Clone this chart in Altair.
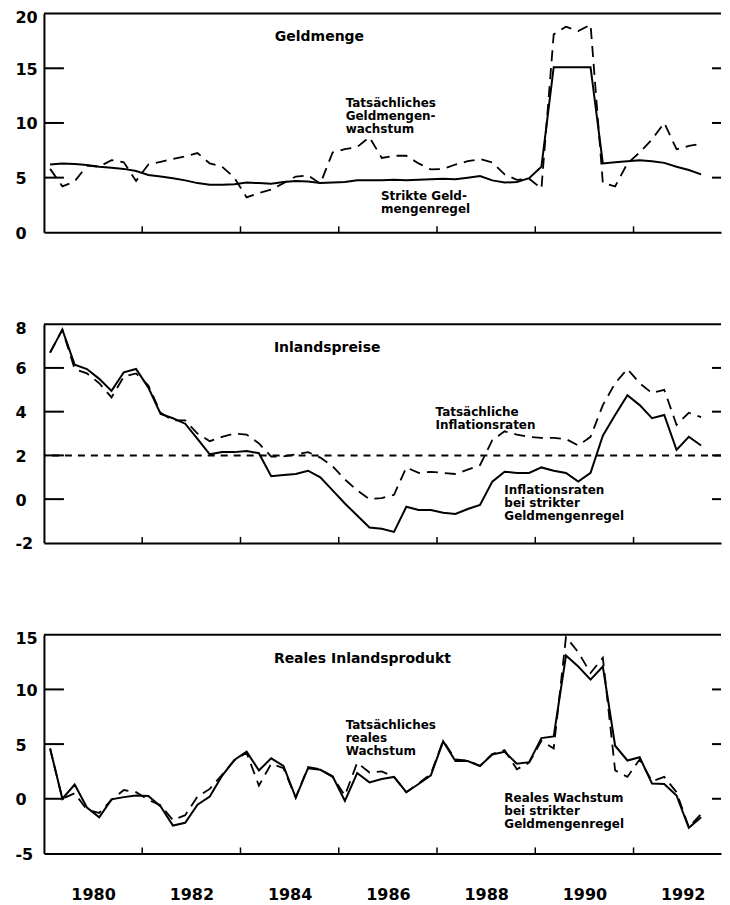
import altair as alt
import pandas as pd

# ---------------- data (quarterly, 1979 Q1 .. 1992 Q2) ----------------
years = list(range(1979, 1993))
quarter_mid = [0.125, 0.375, 0.625, 0.875]
t = [y + q for y in years for q in quarter_mid][:54]

geld_strikt = [6.2, 6.3, 6.25, 6.15, 6.0, 5.9, 5.8, 5.6, 5.25, 5.1,
               4.95, 4.75, 4.5, 4.35, 4.35, 4.4, 4.55, 4.5, 4.45, 4.6,
               4.7, 4.65, 4.5, 4.55, 4.6, 4.75, 4.75, 4.75, 4.8, 4.75,
               4.8, 4.85, 4.9, 4.85, 5.0, 5.15, 4.75, 4.55, 4.6, 4.95,
               6.0, 15.1, 15.1, 15.1, 15.1, 6.3, 6.4, 6.5, 6.6, 6.5,
               6.35, 6.0, 5.7, 5.3]
geld_tats = [5.8, 4.2, 4.65, 6.1, 6.0, 6.6, 6.4, 4.7, 6.2, 6.45,
             6.7, 6.95, 7.25, 6.3, 6.0, 5.0, 3.2, 3.6, 3.9, 4.5,
             5.1, 5.2, 4.45, 7.3, 7.6, 7.8, 8.7, 6.8, 7.0, 7.0,
             6.3, 5.75, 5.8, 6.2, 6.5, 6.7, 6.4, 5.3, 4.8, 4.9,
             4.0, 18.1, 18.8, 18.4, 19.0, 4.5, 4.2, 6.3, 7.3, 8.5,
             10.0, 7.6, 7.9, 8.1]

preis_strikt = [6.7, 7.75, 6.15, 5.95, 5.5, 4.95, 5.8, 5.95, 5.1, 3.9,
                3.7, 3.45, 2.75, 2.05, 2.15, 2.15, 2.2, 2.1, 1.05, 1.1,
                1.15, 1.3, 1.0, 0.4, -0.2, -0.75, -1.3, -1.35, -1.5, -0.35,
                -0.5, -0.5, -0.62, -0.68, -0.45, -0.27, 0.8, 1.25, 1.2, 1.2,
                1.45, 1.3, 1.2, 0.8, 1.2, 2.9, 3.85, 4.75, 4.3, 3.7,
                3.85, 2.25, 2.85, 2.45]
preis_tats = [6.7, 7.75, 5.95, 5.75, 5.3, 4.65, 5.6, 5.75, 5.2, 3.95,
              3.6, 3.6, 3.0, 2.65, 2.85, 3.0, 2.95, 2.55, 1.95, 1.95,
              2.05, 2.15, 1.9, 1.5, 0.9, 0.4, 0.0, 0.05, 0.2, 1.45,
              1.2, 1.25, 1.2, 1.15, 1.35, 1.55, 2.7, 3.1, 2.95, 2.85,
              2.8, 2.8, 2.75, 2.45, 2.85, 4.3, 5.3, 5.95, 5.3, 4.85,
              5.0, 3.4, 3.95, 3.75]

real_strikt = [4.6, 0.0, 1.3, -0.8, -1.7, -0.05, 0.15, 0.3, 0.25, -0.7,
               -2.45, -2.2, -0.55, 0.2, 2.1, 3.55, 4.3, 2.6, 3.7, 3.0,
               0.1, 2.8, 2.65, 2.05, -0.2, 2.35, 1.5, 1.8, 2.0, 0.6,
               1.35, 2.15, 5.25, 3.45, 3.45, 3.0, 4.05, 4.3, 3.2, 3.35,
               5.55, 5.7, 13.1, 12.1, 10.9, 12.1, 4.85, 3.5, 3.8, 1.4,
               1.35, 0.3, -2.65, -1.7]
real_tats = [4.6, 0.0, 0.5, -1.0, -1.3, -0.1, 0.8, 0.6, -0.1, -0.6,
             -1.95, -1.5, 0.2, 0.9, 2.2, 3.5, 4.2, 1.2, 3.2, 2.8,
             0.1, 2.9, 2.7, 2.0, 0.3, 3.3, 2.4, 2.5, 2.0, 0.6,
             1.4, 2.3, 5.3, 3.6, 3.5, 3.0, 4.1, 4.45, 2.7, 3.3,
             5.3, 4.6, 14.8, 13.4, 11.5, 12.9, 2.6, 2.0, 3.6, 1.6,
             2.0, 0.6, -2.6, -1.4]

x_label_years = [1980, 1982, 1984, 1986, 1988, 1990, 1992]
x_tick_years = [1981, 1983, 1985, 1987, 1989, 1991]

# ---------------- layout constants ----------------
W, H = 678, 219
XDOM = [1979.0, 1992.78]
FONT = "DejaVu Sans"


def panel(solid, dashed, ydom, yvals, inner, title, title_xy, notes, show_labels, ref=None):
    xs = alt.Scale(domain=XDOM, nice=False, zero=False)
    ys = alt.Scale(domain=ydom, nice=False, zero=False)
    xaxis = alt.Axis(values=x_label_years, format="d", labels=show_labels, ticks=False,
                     tickSize=0, grid=False, domain=True, domainColor="black",
                     domainWidth=2, labelFont=FONT, labelFontWeight="bold",
                     labelFontSize=16, labelColor="black", labelPadding=33,
                     labelFlush=False, labelOverlap=False, title=None)
    top_test = "datum.value == %s" % ydom[1]
    yaxis = alt.Axis(values=yvals, ticks=False, tickSize=0, grid=False, domain=True,
                     domainColor="black", domainWidth=2, labelFont=FONT,
                     labelFontWeight="bold", labelFontSize=16, labelColor="black",
                     labelAlign="left", labelPadding=29,
                     labelOffset={"condition": {"test": top_test, "value": 4}, "value": 1},
                     labelExpr="replace(datum.label, '\u2212', '-')",
                     labelFlush=False, labelOverlap=False, title=None)
    X = lambda f: alt.X(f, scale=xs, axis=xaxis)
    Y = lambda f: alt.Y(f, scale=ys, axis=yaxis)

    df = pd.DataFrame({"t": t, "solid": solid, "dashed": dashed})
    layers = []
    # top frame line
    layers.append(alt.Chart(pd.DataFrame({"v": [ydom[1]]})).mark_rule(
        color="black", strokeWidth=2).encode(y=Y("v:Q")))
    # inward ticks left and right
    tdf = pd.DataFrame({"v": inner})
    layers.append(alt.Chart(tdf).mark_rule(color="black", strokeWidth=2).encode(
        y=Y("v:Q"), x=alt.value(0), x2=alt.value(20)))
    layers.append(alt.Chart(tdf).mark_rule(color="black", strokeWidth=2).encode(
        y=Y("v:Q"), x=alt.value(W - 9), x2=alt.value(W)))
    # inward ticks bottom
    layers.append(alt.Chart(pd.DataFrame({"t": x_tick_years})).mark_rule(
        color="black", strokeWidth=1.5).encode(x=X("t:Q"), y=alt.value(H), y2=alt.value(H - 6)))
    if ref is not None:
        layers.append(alt.Chart(pd.DataFrame({"v": [ref]})).mark_rule(
            color="black", strokeWidth=2, strokeDash=[7, 6]).encode(y=Y("v:Q")))
    layers.append(alt.Chart(df).mark_line(color="black", strokeWidth=1.8,
                                          strokeDash=[11, 7]).encode(x=X("t:Q"), y=Y("dashed:Q")))
    layers.append(alt.Chart(df).mark_line(color="black", strokeWidth=2).encode(
        x=X("t:Q"), y=Y("solid:Q")))
    # title
    layers.append(alt.Chart(pd.DataFrame({"x": [title_xy[0]], "y": [title_xy[1]], "s": [title]}))
                  .mark_text(align="left", baseline="alphabetic", font=FONT, fontWeight="bold",
                             fontSize=14, color="black")
                  .encode(x=X("x:Q"), y=Y("y:Q"), text="s:N"))
    ndf = pd.DataFrame({"x": [n[0] for n in notes], "y": [n[1] for n in notes],
                        "s": [n[2] for n in notes]})
    layers.append(alt.Chart(ndf).mark_text(align="left", baseline="alphabetic", font=FONT,
                                           fontWeight="bold", fontSize=12, lineHeight=13,
                                           lineBreak="\n", color="black")
                  .encode(x=X("x:Q"), y=Y("y:Q"), text="s:N"))
    return alt.layer(*layers).properties(width=W, height=H)


p1 = panel(geld_strikt, geld_tats, [0, 20], [0, 5, 10, 15, 20], [5, 10, 15],
           "Geldmenge", (1983.70, 17.5),
           [(1985.14, 11.45, "Tatsächliches\nGeldmengen-\nwachstum"),
            (1985.86, 2.95, "Strikte Geld-\nmengenregel")], False)
p2 = panel(preis_strikt, preis_tats, [-2, 8], [-2, 0, 2, 4, 6, 8], [0, 2, 4, 6],
           "Inlandspreise", (1983.68, 6.72),
           [(1986.97, 3.82, "Tatsächliche\nInflationsraten"),
            (1988.37, 0.22, "Inflationsraten\nbei strikter\nGeldmengenregel")], False, ref=2)
p3 = panel(real_strikt, real_tats, [-5, 15], [-5, 0, 5, 10, 15], [0, 5, 10],
           "Reales Inlandsprodukt", (1983.68, 12.42),
           [(1985.14, 6.35, "Tatsächliches\nreales\nWachstum"),
            (1988.37, -0.33, "Reales Wachstum\nbei strikter\nGeldmengenregel")], True)

chart = alt.vconcat(p1, p2, p3, spacing=92, bounds="flush").properties(
    padding={"left": 7, "top": 1, "right": 0, "bottom": 0}
).configure_view(stroke=None)

chart.save("out.html", embed_options={"renderer": "svg", "actions": False})
